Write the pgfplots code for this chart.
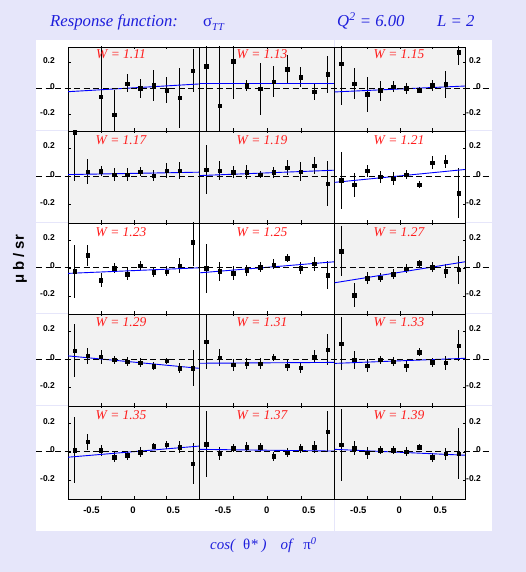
\documentclass[border=0pt]{standalone}
\usepackage{fontspec}
\setmainfont{Liberation Serif}
\setsansfont{Liberation Sans}
\usepackage{pgfplots}
\pgfplotsset{compat=1.18}
\definecolor{lav}{RGB}{230,230,250}
\definecolor{pgray}{RGB}{242,242,242}
\definecolor{tblue}{RGB}{30,30,220}
\definecolor{wred}{RGB}{255,30,30}
\newcommand{\tlfont}{\fontsize{8.5}{9}\selectfont\sffamily\bfseries}
\pgfplotsset{
  panel/.style={
    scale only axis, anchor=south west,
    xmin=-1, xmax=1, ymin=-0.33, ymax=0.32,
    axis background/.style={fill=pgray},
    axis line style={line width=0.9bp},
    xtick={-0.5,0,0.5}, xticklabels={},
    ytick={-0.2,0,0.2}, yticklabels={},
    tick align=inside, major tick length=2.5bp,
    tick style={black, line width=0.5bp},
    xtick pos=both,
  },
  whitebg/.style={axis background/.style={fill=white}},
  lefty/.style={ytick pos=left, yticklabel pos=left, yticklabels={-0.2,0,0.2},
     yticklabel style={anchor=east, inner sep=0pt, xshift=-13bp, yshift=2bp, font=\tlfont}},
  righty/.style={ytick pos=right, yticklabel pos=right, yticklabels={-0.2,0,0.2},
     yticklabel style={anchor=east, inner sep=0pt, xshift=16bp, yshift=2bp, font=\tlfont}},
  midy/.style={ytick=\empty},
  pts/.style={only marks, mark=square*, mark size=1.7bp, black, mark options={solid},
     error bars/.cd, y dir=both, y explicit, error mark=none,
     error bar style={black, line width=0.6bp}},
  fit/.style={blue, line width=0.9bp, no marks},
}
\begin{document}
\begin{tikzpicture}[x=1bp,y=1bp]
\useasboundingbox (0,0) rectangle (526,572);
\fill[lav] (0,0) rectangle (526,572);
\fill[white] (36,41) rectangle (492,532);
\draw[lav, line width=1bp] (334.5,41) -- (334.5,532);
\foreach \yy in {441,349,258,166} {\draw[lav, line width=1bp] (36,\yy) -- (492,\yy);}

% ---------------- Row 1 ----------------
\begin{axis}[panel, lefty, at={(68bp,441bp)}, width=131.5bp, height=84bp]
\addplot+[pts] coordinates {(-0.5,-0.067)+-(0,0.45) (-0.3,-0.205)+-(0,0.19) (-0.1,0.038)+-(0,0.07) (0.1,0.0)+-(0,0.075) (0.3,0.023)+-(0,0.12) (0.5,-0.015)+-(0,0.10) (0.7,-0.074)+-(0,0.23) (0.9,0.138)+-(0,0.17)};
\addplot[fit] coordinates {(-1,-0.026) (1,0.034)};
\end{axis}
\begin{axis}[panel, midy, at={(199.5bp,441bp)}, width=135bp, height=84bp]
\addplot+[pts] coordinates {(-0.9,0.172)+-(0,0.5) (-0.7,-0.136)+-(0,0.5) (-0.5,0.21)+-(0,0.29) (-0.3,0.023)+-(0,0.045) (-0.1,-0.003)+-(0,0.2) (0.1,0.051)+-(0,0.12) (0.3,0.149)+-(0,0.11) (0.5,0.087)+-(0,0.075) (0.7,-0.028)+-(0,0.065) (0.9,0.108)+-(0,0.145)};
\addplot[fit] coordinates {(-1,0.036) (1,0.036)};
\end{axis}
\begin{axis}[panel, righty, at={(334.5bp,441bp)}, width=130.5bp, height=84bp]
\addplot+[pts] coordinates {(-0.9,0.19)+-(0,0.32) (-0.7,0.038)+-(0,0.12) (-0.5,-0.046)+-(0,0.135) (-0.3,-0.02)+-(0,0.077) (-0.1,0.013)+-(0,0.045) (0.1,0.0)+-(0,0.042) (0.3,-0.013)+-(0,0.02) (0.5,0.023)+-(0,0.04) (0.7,0.031)+-(0,0.105) (0.9,0.28)+-(0,0.1)};
\addplot[fit] coordinates {(-1,-0.028) (1,0.018)};
\end{axis}

% ---------------- Row 2 ----------------
\begin{axis}[panel, lefty, at={(68bp,349bp)}, width=131.5bp, height=92bp]
\addplot+[pts] coordinates {(-0.9,0.31)+-(0,0.34) (-0.7,0.033)+-(0,0.087) (-0.5,0.036)+-(0,0.035) (-0.3,0.01)+-(0,0.045) (-0.1,0.01)+-(0,0.045) (0.1,0.033)+-(0,0.033) (0.3,0.005)+-(0,0.04) (0.5,0.04)+-(0,0.052) (0.7,0.04)+-(0,0.06)};
\addplot[fit] coordinates {(-1,0.012) (1,0.029)};
\end{axis}
\begin{axis}[panel, midy, at={(199.5bp,349bp)}, width=135bp, height=92bp]
\addplot+[pts] coordinates {(-0.9,0.048)+-(0,0.17) (-0.7,0.04)+-(0,0.066) (-0.5,0.029)+-(0,0.044) (-0.3,0.029)+-(0,0.05) (-0.1,0.012)+-(0,0.024) (0.1,0.029)+-(0,0.038) (0.3,0.062)+-(0,0.05) (0.5,0.033)+-(0,0.068) (0.7,0.076)+-(0,0.06) (0.9,-0.052)+-(0,0.16)};
\addplot[fit] coordinates {(-1,0.005) (1,0.043)};
\end{axis}
\begin{axis}[panel, whitebg, righty, at={(334.5bp,349bp)}, width=130.5bp, height=92bp]
\addplot+[pts] coordinates {(-0.9,-0.029)+-(0,0.2) (-0.7,-0.06)+-(0,0.085) (-0.5,0.04)+-(0,0.042) (-0.3,-0.005)+-(0,0.042) (-0.1,-0.017)+-(0,0.048) (0.1,0.012)+-(0,0.03) (0.3,-0.06)+-(0,0.025) (0.5,0.098)+-(0,0.044) (0.7,0.105)+-(0,0.048) (0.9,-0.119)+-(0,0.175)};
\addplot[fit] coordinates {(-1,-0.043) (1,0.048)};
\end{axis}

% ---------------- Row 3 ----------------
\begin{axis}[panel, whitebg, lefty, at={(68bp,258bp)}, width=131.5bp, height=91bp]
\addplot+[pts] coordinates {(-0.9,-0.024)+-(0,0.19) (-0.7,0.09)+-(0,0.075) (-0.5,-0.088)+-(0,0.05) (-0.3,-0.002)+-(0,0.037) (-0.1,-0.045)+-(0,0.04) (0.1,0.017)+-(0,0.033) (0.3,-0.031)+-(0,0.036) (0.5,-0.026)+-(0,0.036) (0.7,0.017)+-(0,0.056) (0.9,0.183)+-(0,0.17)};
\addplot[fit] coordinates {(-1,-0.04) (1,0.0)};
\end{axis}
\begin{axis}[panel, whitebg, midy, at={(199.5bp,258bp)}, width=135bp, height=91bp]
\addplot+[pts] coordinates {(-0.9,-0.002)+-(0,0.175) (-0.7,-0.024)+-(0,0.068) (-0.5,-0.038)+-(0,0.05) (-0.3,-0.017)+-(0,0.04) (-0.1,0.005)+-(0,0.033) (0.1,0.024)+-(0,0.036) (0.3,0.069)+-(0,0.028) (0.5,-0.002)+-(0,0.045) (0.7,0.029)+-(0,0.05) (0.9,-0.052)+-(0,0.1)};
\addplot[fit] coordinates {(-1,-0.036) (1,0.043)};
\end{axis}
\begin{axis}[panel, righty, at={(334.5bp,258bp)}, width=130.5bp, height=91bp]
\addplot+[pts] coordinates {(-0.9,0.119)+-(0,0.18) (-0.7,-0.195)+-(0,0.087) (-0.5,-0.074)+-(0,0.045) (-0.3,-0.069)+-(0,0.033) (-0.1,-0.045)+-(0,0.033) (0.1,-0.005)+-(0,0.031) (0.3,0.033)+-(0,0.026) (0.5,0.005)+-(0,0.035) (0.7,-0.024)+-(0,0.05) (0.9,-0.014)+-(0,0.1)};
\addplot[fit] coordinates {(-1,-0.107) (1,0.043)};
\end{axis}

% ---------------- Row 4 ----------------
\begin{axis}[panel, lefty, at={(68bp,166bp)}, width=131.5bp, height=92bp]
\addplot+[pts] coordinates {(-0.9,0.062)+-(0,0.19) (-0.7,0.026)+-(0,0.056) (-0.5,0.019)+-(0,0.05) (-0.3,-0.005)+-(0,0.025) (-0.1,-0.017)+-(0,0.033) (0.1,-0.024)+-(0,0.033) (0.3,-0.048)+-(0,0.03) (0.5,-0.01)+-(0,0.022) (0.7,-0.062)+-(0,0.038) (0.9,-0.062)+-(0,0.125)};
\addplot[fit] coordinates {(-1,0.024) (1,-0.064)};
\end{axis}
\begin{axis}[panel, midy, at={(199.5bp,166bp)}, width=135bp, height=92bp]
\addplot+[pts] coordinates {(-0.9,0.124)+-(0,0.19) (-0.7,0.012)+-(0,0.062) (-0.5,-0.04)+-(0,0.042) (-0.3,-0.031)+-(0,0.04) (-0.1,-0.031)+-(0,0.04) (0.1,0.012)+-(0,0.024) (0.3,-0.045)+-(0,0.038) (0.5,-0.059)+-(0,0.036) (0.7,0.019)+-(0,0.045) (0.9,0.069)+-(0,0.11)};
\addplot[fit] coordinates {(-1,-0.028) (1,-0.022)};
\end{axis}
\begin{axis}[panel, righty, at={(334.5bp,166bp)}, width=130.5bp, height=92bp]
\addplot+[pts] coordinates {(-0.9,0.112)+-(0,0.19) (-0.7,-0.005)+-(0,0.065) (-0.5,-0.045)+-(0,0.045) (-0.3,-0.005)+-(0,0.027) (-0.1,-0.017)+-(0,0.03) (0.1,-0.045)+-(0,0.042) (0.3,0.05)+-(0,0.03) (0.5,-0.021)+-(0,0.032) (0.7,-0.024)+-(0,0.05) (0.9,0.098)+-(0,0.11)};
\addplot[fit] coordinates {(-1,-0.029) (1,0.007)};
\end{axis}

% ---------------- Row 5 ----------------
\begin{axis}[panel, lefty, at={(68bp,73bp)}, width=131.5bp, height=93bp]
\addplot+[pts] coordinates {(-0.9,0.012)+-(0,0.23) (-0.7,0.069)+-(0,0.056) (-0.5,0.01)+-(0,0.04) (-0.3,-0.038)+-(0,0.036) (-0.1,-0.024)+-(0,0.03) (0.1,-0.002)+-(0,0.032) (0.3,0.04)+-(0,0.02) (0.5,0.048)+-(0,0.028) (0.7,0.033)+-(0,0.045) (0.9,-0.083)+-(0,0.145)};
\addplot[fit] coordinates {(-1,-0.038) (1,0.04)};
\end{axis}
\begin{axis}[panel, midy, at={(199.5bp,73bp)}, width=135bp, height=93bp]
\addplot+[pts] coordinates {(-0.9,0.052)+-(0,0.23) (-0.7,-0.012)+-(0,0.048) (-0.5,0.026)+-(0,0.027) (-0.3,0.033)+-(0,0.036) (-0.1,0.033)+-(0,0.027) (0.1,-0.031)+-(0,0.032) (0.3,-0.007)+-(0,0.032) (0.5,0.024)+-(0,0.032) (0.7,0.033)+-(0,0.04) (0.9,0.14)+-(0,0.143)};
\addplot[fit] coordinates {(-1,0.017) (1,0.005)};
\end{axis}
\begin{axis}[panel, righty, at={(334.5bp,73bp)}, width=130.5bp, height=93bp]
\addplot+[pts] coordinates {(-0.9,0.048)+-(0,0.25) (-0.7,0.024)+-(0,0.048) (-0.5,-0.007)+-(0,0.04) (-0.3,0.01)+-(0,0.028) (-0.1,0.012)+-(0,0.028) (0.1,0.0)+-(0,0.03) (0.3,0.033)+-(0,0.02) (0.5,-0.038)+-(0,0.03) (0.7,-0.014)+-(0,0.042) (0.9,-0.012)+-(0,0.18)};
\addplot[fit] coordinates {(-1,0.017) (1,-0.024)};
\end{axis}

% zero lines
\foreach \yy in {483.6,395.7,304.2,212.7,120.2} {
  \draw[black, line width=0.8bp, dash pattern=on 6bp off 3.5bp] (36,\yy) -- (491,\yy);}

% W labels
\tikzset{wl/.style={text=wred, font=\fontsize{13.5}{15}\selectfont\itshape, inner sep=0pt}}
\node[wl] at (121,517.5) {W = 1.11};
\node[wl] at (262,517.5) {W = 1.13};
\node[wl] at (399,517.5) {W = 1.15};
\node[wl] at (121,431.5) {W = 1.17};
\node[wl] at (262,431.5) {W = 1.19};
\node[wl] at (399,431.5) {W = 1.21};
\node[wl] at (121,339.5) {W = 1.23};
\node[wl] at (262,339.5) {W = 1.25};
\node[wl] at (399,339.5) {W = 1.27};
\node[wl] at (121,249.5) {W = 1.29};
\node[wl] at (262,249.5) {W = 1.31};
\node[wl] at (399,249.5) {W = 1.33};
\node[wl] at (121,157) {W = 1.35};
\node[wl] at (262,157) {W = 1.37};
\node[wl] at (399,157) {W = 1.39};

% bottom x tick labels
\tikzset{xl/.style={font=\fontsize{9.5}{10}\selectfont\sffamily\bfseries, inner sep=0pt}}
\foreach \xx/\tt in {91.5/-0.5,133/0,173.3/0.5,223/-0.5,266.8/0,308.8/0.5,358.3/-0.5,399.3/0,440.3/0.5}
  {\node[xl] at (\xx,62) {\tt};}

% titles
\tikzset{tt/.style={text=tblue, anchor=base west, inner sep=0pt, font=\fontsize{16.8}{18}\selectfont}}
\node[tt] at (50,545) {\itshape Response function:};
\node[tt] at (203,545) {σ\raisebox{-4bp}{\fontsize{10.5}{11}\selectfont\itshape TT}};
\node[tt] at (337,545) {\itshape Q\textsuperscript{2} = 6.00};
\node[tt] at (437,545) {\itshape L = 2};
\node[text=tblue, anchor=base west, inner sep=0pt, font=\fontsize{15}{16}\selectfont\itshape] at (210,22)
  {cos(\hspace{8bp}{\upshape θ}*\hspace{4bp})\hspace{14bp}of\hspace{11bp}{\upshape π}\textsuperscript{0}};
\node[rotate=90, inner sep=0pt, font=\fontsize{15}{16}\selectfont\sffamily\bfseries] at (20,312.5) {μ b / sr};
\end{tikzpicture}
\end{document}
